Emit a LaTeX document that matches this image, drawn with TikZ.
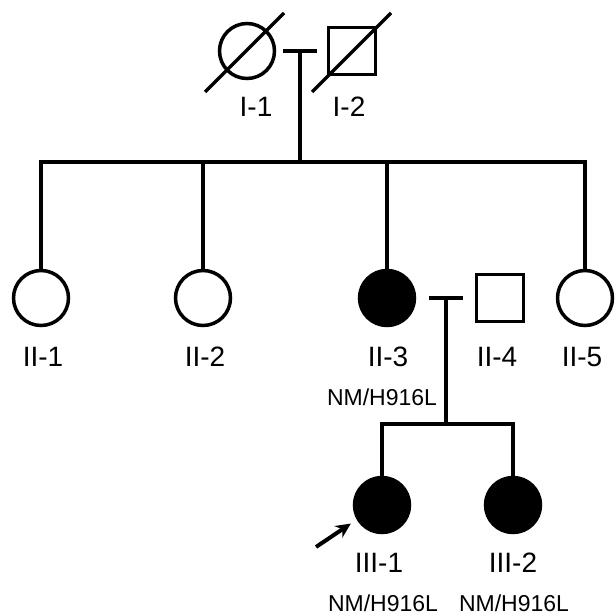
\documentclass[tikz,border=0pt]{standalone}
\usepackage{fontspec}
\setmainfont{Liberation Sans}
\usetikzlibrary{calc,arrows.meta}

\tikzset{
  female/.style={circle, draw, line width=3.5pt, minimum size=55pt, inner sep=0pt},
  male/.style={rectangle, draw, line width=3.5pt, minimum size=47pt, inner sep=0pt},
  affected/.style={fill=black},
  gen/.style={font=\fontsize{28}{32}\selectfont, inner sep=0pt},
  geno/.style={font=\fontsize{23}{26}\selectfont, inner sep=0pt},
}

\begin{document}
\begin{tikzpicture}[x=1pt, y=-1pt, line width=3.5pt]
		\useasboundingbox (0,0) rectangle (614,615);
		% generation I
		\node[female](i1) at (247,51){};
		\node[male](i2) at (352,51){};
		\draw ($(i1)+(-42,41)$)--($(i1)+(37,-38)$);
		\draw ($(i2)+(-40,41)$)--($(i2)+(39,-38)$);
		\coordinate (m1) at (300,51);
		\coordinate (s1) at (300,162);
		\draw[shorten <=7pt, shorten >=10pt](i1.east)--(i2.west);
		\draw(m1)--(s1);
		\node[gen](i1l) at (256,107){I-1};
		\node[gen](i2l) at (349,107){I-2};
		% generation II
		\node[female](ii1) at (41,298){};
		\node[female](ii2) at (203,298){};
		\node[female, affected](ii3) at (387,298){};
		\node[male](ii4) at (500,298){};
		\node[female](ii5) at (585,298){};
		\draw(ii1.north)--(ii1 |- s1)--(ii5 |- s1)--(ii5.north);
		\draw(ii2.north)--(ii2 |- s1);
		\draw(ii3.north)--(ii3 |- s1);
		\coordinate (m2) at (446,298);
		\coordinate (s2) at (446,424);
		\draw[shorten <=13pt, shorten >=12pt](ii3.east)--(ii4.west);
		\draw(m2)--(s2);
		\node[gen](ii1l) at (43,357){II-1};
		\node[gen](ii2l) at (205,357){II-2};
		\node[gen](ii3l) at (388,357){II-3};
		\node[gen](ii4l) at (497,357){II-4};
		\node[gen](ii5l) at (582,357){II-5};
		\node[geno](ii3g) at (382,397){NM/H916L};
		% generation III
		\node[female, affected](iii1) at (382,505){};
		\node[female, affected](iii2) at (513,505){};
		\draw(iii1.north)--(iii1 |- s2)--(iii2 |- s2)--(iii2.north);
		\coordinate (pb) at (316,547);
		\draw[-{Stealth[length=15pt, width=14pt]}, line width=4pt, shorten >=7pt](pb)--(iii1.210);
		\node[gen](iii1l) at (379,563){III-1};
		\node[gen](iii2l) at (513,563){III-2};
		\node[geno](iii1g) at (383,603){NM/H916L};
		\node[geno](iii2g) at (514,603){NM/H916L};
		\end{tikzpicture}
\end{document}
